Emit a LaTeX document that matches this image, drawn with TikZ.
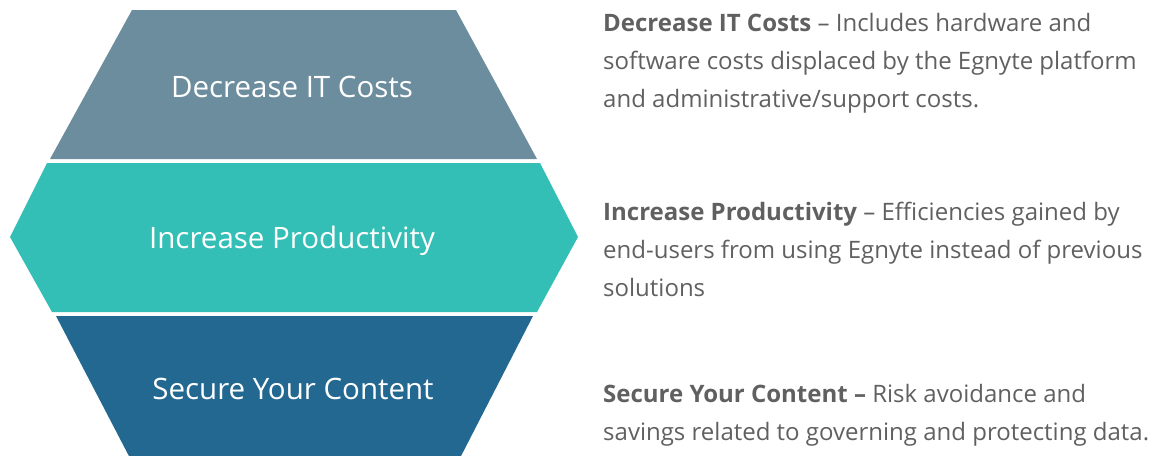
\documentclass[tikz,border=0pt]{standalone}
\usepackage{fontspec}
\setmainfont{Open Sans}
\definecolor{slate}{HTML}{6C8D9E}
\definecolor{teal}{HTML}{34BFB6}
\definecolor{navy}{HTML}{236891}
\definecolor{txt}{HTML}{606060}
\begin{document}
\begin{tikzpicture}[x=1pt,y=-1pt,
  hexlabel/.style={text=white,font=\fontsize{29.5}{34}\selectfont,anchor=base,inner sep=0pt},
  desc/.style={text=txt,font=\fontsize{24}{28}\selectfont,anchor=base west,inner sep=0pt}]
\useasboundingbox (0,0) rectangle (1156,455);
% top trapezoid
\fill[slate] (132,10) -- (456,10) -- (537,159) -- (50,159) -- cycle;
% middle hexagon
\fill[teal] (47,163) -- (540,163) -- (578,237) -- (537,312) -- (52,312) -- (10,237) -- cycle;
% bottom trapezoid
\fill[navy] (56,316) -- (533,316) -- (459,460) -- (131,460) -- cycle;
\node[hexlabel] (l1) at (292,97) {Decrease IT Costs};
\node[hexlabel] (l2) at (292,248) {Increase Productivity};
\node[hexlabel] (l3) at (293,399) {Secure Your Content};
\node[desc] (d1a) at (603,31) {\textbf{Decrease IT Costs} – Includes hardware and};
\node[desc] (d1b) at (603,69) {software costs displaced by the Egnyte platform};
\node[desc] (d1c) at (603,107) {and administrative/support costs.};
\node[desc] (d2a) at (603,220) {\textbf{Increase Productivity} – Efficiencies gained by};
\node[desc] (d2b) at (603,258) {end-users from using Egnyte instead of previous};
\node[desc] (d2c) at (603,296) {solutions};
\node[desc] (d3a) at (603,402) {\textbf{Secure Your Content –} Risk avoidance and};
\node[desc] (d3b) at (603,440) {savings related to governing and protecting data.};
\end{tikzpicture}
\end{document}
